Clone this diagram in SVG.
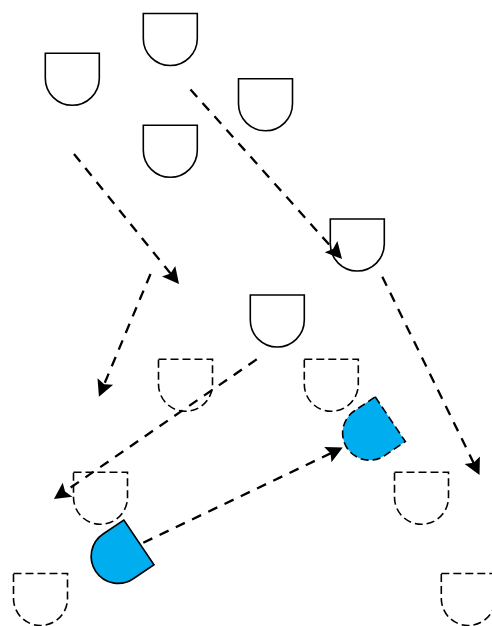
<svg xmlns="http://www.w3.org/2000/svg" xmlns:xlink="http://www.w3.org/1999/xlink" width="492" height="626" viewBox="0 0 492 626">
<style>
.solid{fill:#ffffff;stroke:#000;stroke-width:1.6}
.dash{fill:#ffffff;stroke:#000;stroke-width:1.6;stroke-dasharray:8 4}
.blue{fill:#00AEEF;stroke:#000;stroke-width:1.6}
.bluedash{fill:#00AEEF;stroke:#000;stroke-width:1.6;stroke-dasharray:8 4}
.conn{fill:none;stroke:#000;stroke-width:2.3;stroke-dasharray:10 8;marker-end:url(#arr)}
</style>
<defs>
<path id="delay" d="M0,0 H54 V25 A27,27 0 0 1 0,25 Z"/>
<marker id="arr" viewBox="-10 -10 24 20" refX="0" refY="0" markerWidth="24" markerHeight="20" markerUnits="userSpaceOnUse" orient="auto">
<path d="M11,0 L-5.5,-8.5 L-2.5,0 L-5.5,8.5 Z" fill="#000"/>
</marker>
</defs>
<rect width="492" height="626" fill="#fff"/>
<g id="n1"><use xlink:href="#delay" class="solid" transform="translate(45.3,53.3)"/></g>
<g id="n2"><use xlink:href="#delay" class="solid" transform="translate(143.3,13.5)"/></g>
<g id="n3"><use xlink:href="#delay" class="solid" transform="translate(238.5,78.8)"/></g>
<g id="n4"><use xlink:href="#delay" class="solid" transform="translate(143.3,125.3)"/></g>
<g id="n5"><use xlink:href="#delay" class="solid" transform="translate(330.3,219)"/></g>
<g id="n6"><use xlink:href="#delay" class="solid" transform="translate(250.3,295)"/></g>
<g id="n7"><use xlink:href="#delay" class="dash" transform="translate(304.3,359.3)"/></g>
<g id="n8"><use xlink:href="#delay" class="dash" transform="translate(158.5,359.3)"/></g>
<g id="n9"><use xlink:href="#delay" class="dash" transform="translate(73.5,472.3)"/></g>
<g id="n10"><use xlink:href="#delay" class="dash" transform="translate(13.5,573.5)"/></g>
<g id="n11"><use xlink:href="#delay" class="dash" transform="translate(394.5,472.3)"/></g>
<g id="n12"><use xlink:href="#delay" class="dash" transform="translate(441.3,573.5)"/></g>
<g id="n13"><use xlink:href="#delay" class="bluedash" transform="translate(375.2,396.8) rotate(56)"/></g>
<g id="n14"><use xlink:href="#delay" class="blue" transform="translate(123.8,520) rotate(56)"/></g>
<g id="connectors">
<path class="conn" d="M74,154 L172.1,275.5"/>
<path class="conn" d="M150.5,274 L103.2,386.6"/>
<path class="conn" d="M190.5,89.5 L334.7,250.8"/>
<path class="conn" d="M382.3,276.7 L474.7,465.1"/>
<path class="conn" d="M256.7,359.3 L63,492.8"/>
<path class="conn" d="M143.3,542.7 L332.8,452.3"/>
</g>
</svg>
